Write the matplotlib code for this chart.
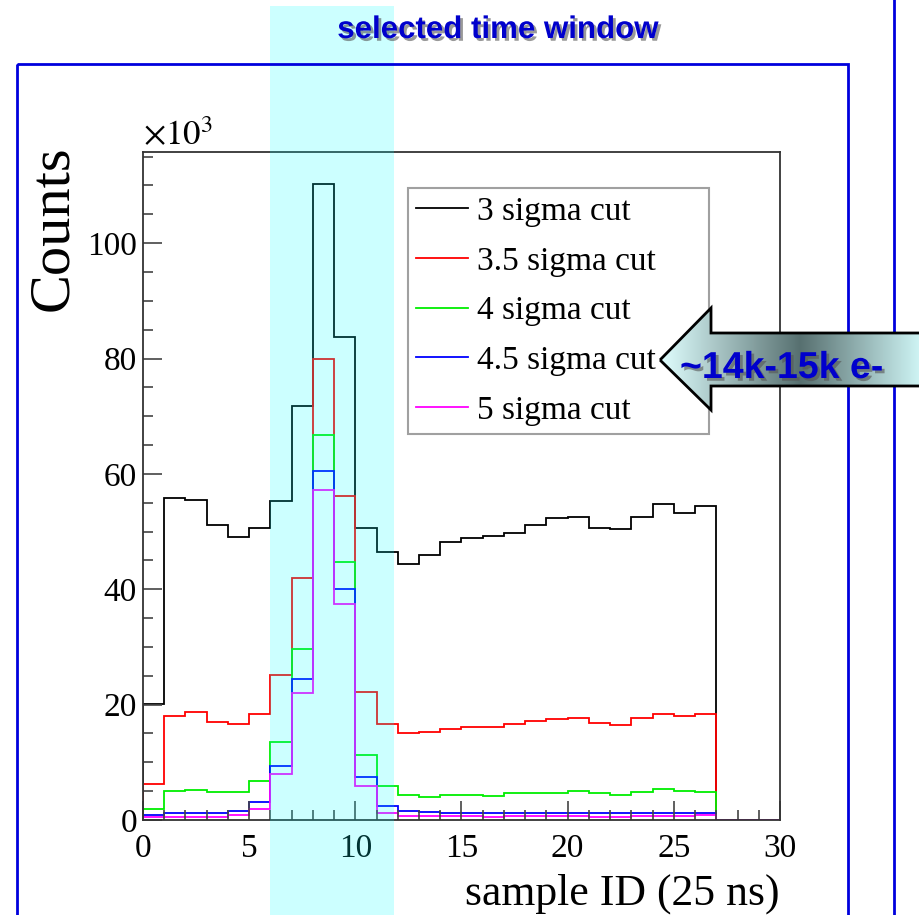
import numpy as np
import matplotlib
matplotlib.use('Agg')
import matplotlib.pyplot as plt
import matplotlib.patches as patches
import matplotlib.transforms as mtransforms
import matplotlib.patheffects as pe
from matplotlib.colors import LinearSegmentedColormap
from matplotlib.ticker import MultipleLocator

plt.rcParams['font.family'] = ['Liberation Serif', 'DejaVu Serif']
plt.rcParams['mathtext.fontset'] = 'stix'

# histogram contents (x 10^3 counts), one bin per sample ID 0..29
bin_edges = np.arange(0, 31)
sigma_3 = [20.1, 55.9, 55.5, 51.1, 49.1, 50.7, 55.3, 71.8, 110.3, 83.7,
           50.7, 46.4, 44.3, 45.9, 48.2, 48.8, 49.2, 49.8, 51.2, 52.3,
           52.5, 50.7, 50.4, 52.6, 54.8, 53.2, 54.4, 0, 0, 0]
sigma_3_5 = [6.2, 18.0, 18.7, 17.0, 16.6, 18.4, 25.1, 41.9, 80.0, 56.2,
             22.2, 16.6, 15.0, 15.3, 15.8, 16.2, 16.2, 16.6, 17.1, 17.5,
             17.7, 16.8, 16.5, 17.6, 18.4, 18.1, 18.4, 0, 0, 0]
sigma_4 = [1.9, 5.0, 5.2, 4.8, 4.9, 6.8, 13.5, 29.6, 66.7, 44.8,
           11.3, 5.9, 4.4, 4.0, 4.3, 4.4, 4.2, 4.6, 4.6, 4.6,
           5.0, 4.7, 4.4, 4.8, 5.3, 5.0, 4.8, 0, 0, 0]
sigma_4_5 = [0.9, 1.3, 1.3, 1.3, 1.6, 3.1, 9.4, 24.4, 60.5, 40.0,
             7.4, 2.4, 1.6, 1.4, 1.3, 1.3, 1.3, 1.3, 1.2, 1.3,
             1.3, 1.2, 1.2, 1.3, 1.3, 1.2, 1.3, 0, 0, 0]
sigma_5 = [0.6, 0.6, 0.6, 0.6, 0.9, 1.9, 7.9, 22.0, 57.2, 37.4,
           5.9, 1.3, 0.7, 0.7, 0.7, 0.7, 0.6, 0.7, 0.7, 0.7,
           0.7, 0.6, 0.6, 0.7, 0.7, 0.7, 0.8, 0, 0, 0]

series = [sigma_3, sigma_3_5, sigma_4, sigma_4_5, sigma_5]
labels = ['3 sigma cut', '3.5 sigma cut', '4 sigma cut', '4.5 sigma cut', '5 sigma cut']
colors = ['black', '#ff0000', '#00ee00', '#0000ff', '#ff00ff']

window = (6, 11.8)

W, H = 920, 915
fig = plt.figure(figsize=(W / 100, H / 100), dpi=100)
ax = fig.add_axes([143 / W, 1 - 820 / H, 637 / W, 668 / H])

for vals, lab, col in zip(series, labels, colors):
    ax.stairs(vals, bin_edges, color=col, lw=1.3, label=lab, baseline=0)

ax.set_xlim(0, 30)
ax.set_ylim(0, 115.8)
ax.xaxis.set_major_locator(MultipleLocator(5))
ax.xaxis.set_minor_locator(MultipleLocator(1))
ax.yaxis.set_major_locator(MultipleLocator(20))
ax.yaxis.set_minor_locator(MultipleLocator(5))
ax.tick_params(which='both', direction='in', color='#444444', width=1.2, labelsize=24)
ax.tick_params(which='major', length=13.7)
ax.tick_params(which='minor', length=7.2)
ax.tick_params(axis='x', pad=9.4)
ax.tick_params(axis='y', pad=4.3)
for sp in ax.spines.values():
    sp.set_linewidth(1.3)
    sp.set_color('#333333')

ax.set_ylabel('Counts', fontsize=42, loc='top')
ax.yaxis.set_label_coords(-0.1, 1.01)
ax.set_xlabel('sample ID (25 ns)', fontsize=31.5, loc='right')
ax.xaxis.set_label_coords(1.0, -0.0795)
ax.text(0.0, 1.0105, r'$\times10^{3}$', transform=ax.transAxes, fontsize=25,
        ha='left', va='baseline')

leg = ax.legend(loc='upper left', bbox_to_anchor=(0.416, 0.576, 0.4725, 0.37),
                mode='expand', borderaxespad=0, fontsize=24, frameon=True,
                fancybox=False, edgecolor='#888888', borderpad=0.25,
                labelspacing=0.575, handlelength=1.56, handletextpad=0.25)
leg.get_frame().set_linewidth(1.5)

# overlay in pixel coordinates for the slide decorations
ov = fig.add_axes([0, 0, 1, 1], zorder=5)
ov.axis('off')

trans = mtransforms.blended_transform_factory(ax.transData, ov.transData)
band = patches.Rectangle((window[0], 6), window[1] - window[0], H, transform=trans,
                         facecolor='cyan', alpha=0.2, edgecolor='none', clip_on=False)
ov.add_patch(band)

ov.add_patch(patches.Rectangle((17, 64), 831, 900, fill=False, edgecolor='#0000dd', lw=2))
ov.plot([894, 894], [0, H], color='#0000dd', lw=2)

shadow = [pe.SimplePatchShadow(offset=(2, -2), shadow_rgbFace='#555555', alpha=0.6), pe.Normal()]
ov.text(498, 30, 'selected time window', fontsize=22.5, fontweight='bold',
        family='Liberation Sans', color='#0000cc', ha='center', va='center',
        path_effects=shadow)

verts = [(660, 360), (711, 308), (711, 333), (935, 333), (935, 386), (711, 386), (711, 410)]
arrow = patches.Polygon(verts, closed=True, facecolor='none', edgecolor='black', lw=2, zorder=6)
ov.add_patch(arrow)
cmap = LinearSegmentedColormap.from_list('arr', [(0, '#e0ffff'), (0.52, '#577070'), (1, '#d8ffff')])
grad = np.linspace(0, 1, 256).reshape(1, -1)
im = ov.imshow(grad, cmap=cmap, extent=(660, 930, 415, 300), aspect='auto', zorder=5.5)
im.set_clip_path(arrow)
ov.text(680, 368, '~14k-15k e-', fontsize=27, fontweight='bold', family='Liberation Sans',
        color='#0000cc', ha='left', va='center', zorder=7, path_effects=shadow)

ov.set_xlim(0, W)
ov.set_ylim(H, 0)

fig.savefig('out.png', dpi=100)
